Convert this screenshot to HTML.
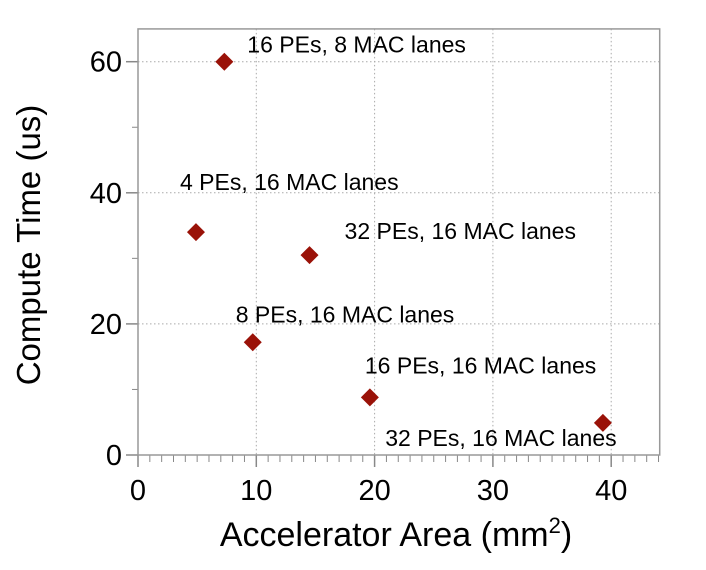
<!DOCTYPE html>
<html><head><meta charset="utf-8"><style>
body{margin:0;background:#fff;}
svg text{font-family:"Liberation Sans",Arial,sans-serif;fill:#000;}
</style></head><body>
<svg id="chart" width="706" height="565" xmlns="http://www.w3.org/2000/svg">
<g id="grid"></g>
<g id="axes"></g>
<g id="marks"></g>
<text x="40" y="245" font-size="33" text-anchor="middle" transform="rotate(-90 40 245)">Compute Time (us)</text>
<text x="396" y="546" font-size="34" text-anchor="middle">Accelerator Area (mm<tspan font-size="22" dy="-13">2</tspan><tspan dy="13">)</tspan></text>
</svg>
<script>
const areas=[7.3,4.9,14.5,9.7,19.6,39.3];
const times=[60.0,34.0,30.5,17.2,8.8,4.9];
const labels=["16 PEs, 8 MAC lanes","4 PEs, 16 MAC lanes","32 PEs, 16 MAC lanes","8 PEs, 16 MAC lanes","16 PEs, 16 MAC lanes","32 PEs, 16 MAC lanes"];
const labelDx=[1.94,-1.35,2.96,-1.44,-0.42,-18.4];
const labelDy=[1.37,6.4,2.44,3.05,3.66,-3.5];
const xTicks=[0,10,20,30,40];
const yTicks=[0,20,40,60];
const X0=138,XS=11.83,Y0=455,YS=6.555;
const xs=v=>X0+v*XS, ys=v=>Y0-v*YS;
const L=xs(0),R=xs(44.1),T=ys(65),B=ys(0);
const NS="http://www.w3.org/2000/svg";
function mk(p,t,a){const e=document.createElementNS(NS,t);for(const k in a)e.setAttribute(k,a[k]);p.appendChild(e);return e;}
const grid=document.getElementById('grid'),axes=document.getElementById('axes'),marks=document.getElementById('marks');
xTicks.forEach(v=>{if(v>0){const g=mk(grid,'line',{x1:xs(v),x2:xs(v),y1:T,y2:B,stroke:'#aaa','stroke-dasharray':'1.5,2.5'});

}
const t=mk(axes,'text',{x:xs(v),y:B+45,'font-size':29,'text-anchor':'middle'});t.textContent=v;

});
yTicks.forEach(v=>{if(v>0){const g=mk(grid,'line',{x1:L,x2:R,y1:ys(v),y2:ys(v),stroke:'#aaa','stroke-dasharray':'1.5,2.5'});

}
mk(axes,'line',{x1:L-12,x2:L,y1:ys(v),y2:ys(v),stroke:'#888','stroke-width':1.5});
const t=mk(axes,'text',{x:L-16,y:ys(v)+10,'font-size':29,'text-anchor':'end'});t.textContent=v;

});
for(let v=10;v<65;v+=20)mk(axes,'line',{x1:L-6,x2:L,y1:ys(v),y2:ys(v),stroke:'#888'});
for(let v=0;v<=44;v++){const big=v%10===0;mk(axes,'line',{x1:xs(v),x2:xs(v),y1:B,y2:B+(big?12:7),stroke:'#888','stroke-width':big?1.5:1});}
const fr=mk(axes,'rect',{x:L,y:T,width:R-L,height:B-T,fill:'none',stroke:'#999','stroke-width':1.5});


areas.forEach((a,i)=>{const cx=xs(a),cy=ys(times[i]);
const p=mk(marks,'polygon',{points:`${cx},${cy-9} ${cx+9},${cy} ${cx},${cy+9} ${cx-9},${cy}`,fill:'#9a1208'});


const t=mk(marks,'text',{x:xs(a+labelDx[i]),y:ys(times[i]+labelDy[i]),'font-size':23});t.textContent=labels[i];

});
</script>
</body></html>
